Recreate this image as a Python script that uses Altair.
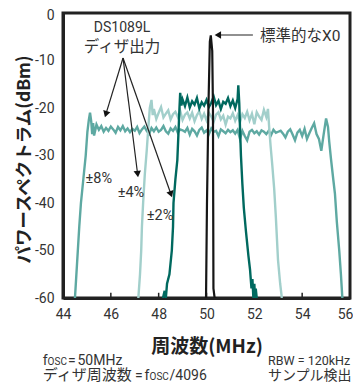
import altair as alt
import pandas as pd
import numpy as np

# ---------------- data ----------------
# ±8% dither output (medium teal)
d8_left_x = [44.50, 44.56, 44.62, 44.68, 44.75, 44.85, 44.95, 45.02, 45.08, 45.13, 45.18, 45.22, 45.26]
d8_left_y = [-60, -55, -50, -45, -40, -35, -30, -25, -22.5, -21.0, -22.8, -25.5, -23.2]
d8_plateau_start = 45.3
d8_plateau_y = [
    -25.8, -23.5, -24.6, -23.8, -25.0, -24.2, -24.8, -23.9, -24.5, -25.2, -24.0, -24.7, -23.8, -24.9, -24.3, -25.1, -24.4, -24.8,
    -24.0, -25.3, -24.5, -23.9, -24.8, -25.5, -24.2, -24.9, -24.1, -25.0, -24.6, -23.8, -24.9, -25.4, -24.3, -24.8, -24.0, -25.2, -24.5, -24.7,
    -25.0, -24.2, -25.6, -24.4, -24.9, -25.8, -24.6, -24.1, -25.2, -24.7, -25.5, -24.3, -25.0, -24.8, -25.9, -24.5, -24.9, -25.3, -24.6, -25.1,
    -24.7, -25.4, -24.6, -26.5, -24.8, -25.9, -26.8, -25.0, -24.6, -25.3, -24.9, -25.6, -24.7, -25.0, -25.5, -24.8, -25.7, -24.6, -25.2, -25.0,
    -24.8, -25.4, -26.2, -25.0, -24.5, -25.6, -26.8, -25.2, -24.6, -25.9, -24.4, -26.5, -25.3, -24.2, -23.2, -25.5, -26.5, -29.0, -25.5, -22.2,
]
d8_right_x = [55.08, 55.13, 55.20, 55.30, 55.37, 55.45, 55.55, 55.62, 55.68]
d8_right_y = [-24, -27, -30.5, -35, -38, -44, -50, -55, -60]

# ±4% dither output (light teal)
d4_left_x = [47.15, 47.22, 47.27, 47.30, 47.35, 47.42, 47.50, 47.57, 47.63, 47.70, 47.75]
d4_left_y = [-60, -55, -50, -45, -40, -34, -29, -24, -20, -18.3, -21.5]
d4_plateau_start = 47.8
d4_plateau_y = [
    -20.2, -22.3, -21.0, -19.8, -22.0, -21.2, -20.5, -22.4, -21.3, -20.8,
    -21.9, -20.6, -22.5, -21.4, -20.9, -22.2, -21.0, -22.8, -21.5, -20.7,
    -22.3, -21.2, -22.6, -21.0, -21.8, -22.9, -21.4, -20.9, -22.4, -21.6,
    -23.5, -21.8, -22.2, -21.1, -22.7, -21.5, -23.0, -21.3, -22.1, -20.8,
    -22.6, -21.2, -23.4, -20.9, -21.8, -22.5, -20.4, -21.9,
]
d4_right_x = [52.57, 52.62, 52.68, 52.75, 52.83, 52.90, 52.99, 53.08, 53.15]
d4_right_y = [-20.2, -24, -28, -32, -37, -43, -52, -57, -60]

# ±2% dither output (dark teal)
d2_left_x = [48.18, 48.25, 48.30, 48.35, 48.45, 48.55, 48.60, 48.62, 48.70, 48.78, 48.83, 48.87, 48.90, 48.95]
d2_left_y = [-60, -58.5, -60, -57, -55, -50, -45, -40, -35, -31, -25, -20, -16.8, -19.5]
d2_plateau_start = 49.0
d2_plateau_y = [
    -18.2, -19.6, -17.8, -19.9, -18.6, -19.3, -17.9, -20.1, -18.8, -19.5, -18.3, -19.8,
    -18.9, -17.6, -19.4, -18.5, -20.2, -18.7, -19.1, -17.9, -19.6, -18.4, -20.0, -18.1,
]
d2_right_x = [51.33, 51.37, 51.40, 51.44, 51.50, 51.56, 51.65, 51.75, 51.82, 51.88, 51.92, 51.96, 52.00, 52.03, 52.06, 52.10]
d2_right_y = [-15.2, -19, -24, -30, -36, -41, -46, -51, -54, -58, -56, -60, -57, -60, -58, -60]

# standard crystal oscillator (black spike)
xo_x = [49.98, 50.02, 50.08, 50.14, 50.18, 50.24, 50.27, 50.28, 50.29, 50.34, 50.42]
xo_y = [-60, -40, -20, -6, -4.7, -8, -20, -40, -58, -60, -60]

x_ticks = [44, 46, 48, 50, 52, 54, 56]
y_ticks = [-60, -50, -40, -30, -20, -10, 0]

series_names = ["±8%", "±4%", "±2%"]
series_colors = ["#5ea9a2", "#a2cfcb", "#00695f"]


def build(name, lx, ly, start, py, rx, ry):
    px = list(np.round(start + 0.1 * np.arange(len(py)), 2))
    xs = list(lx) + px + list(rx)
    ys = list(ly) + list(py) + list(ry)
    return pd.DataFrame({"f": xs, "p": ys, "s": name, "i": range(len(xs))})


spec_df = pd.concat([
    build("±8%", d8_left_x, d8_left_y, d8_plateau_start, d8_plateau_y, d8_right_x, d8_right_y),
    build("±4%", d4_left_x, d4_left_y, d4_plateau_start, d4_plateau_y, d4_right_x, d4_right_y),
    build("±2%", d2_left_x, d2_left_y, d2_plateau_start, d2_plateau_y, d2_right_x, d2_right_y),
], ignore_index=True)
xo_df = pd.DataFrame({"f": xo_x, "p": xo_y, "i": range(len(xo_x))})

# annotations (data coordinates)
arrow_df = pd.DataFrame({
    "x": [46.51, 46.51, 46.51, 51.94],
    "y": [-9.47, -9.47, -9.47, -4.63],
    "x2": [45.806, 47.115, 48.50, 50.52],
    "y2": [-21.09, -33.68, -37.94, -4.63],
    "ang": [196.9, 172.8, 160.6, 270],
})
center_text_df = pd.DataFrame({
    "x": [46.47, 46.47, 45.50, 46.84, 48.06],
    "y": [-4.0, -8.2, -35.8, -38.7, -43.6],
    "t": ["DS1089L", "ディザ出力", "±8%", "±4%", "±2%"],
    "fs": [14, 15.5, 14.5, 14.5, 14.5],
})
left_text_df = pd.DataFrame({
    "x": [52.236, 43.151, 43.356, 44.209, 44.606, 43.151, 47.010, 47.408, 47.617, 48.453, 52.571, 52.571],
    "y": [-5.9, -74.0, -74.0, -74.0, -74.0, -77.3, -77.3, -77.3, -77.3, -77.3, -74.0, -77.3],
    "t": ["標準的なX0", "f", "OSC", "=", "50MHz", "ディザ周波数", "=", "f", "OSC", "/4096", "RBW = 120kHz", "サンプル検出"],
    "fs": [15.5, 14, 10, 14, 14, 15, 14, 14, 10, 14, 12.5, 14],
})
tick_df = pd.DataFrame({"x": x_ticks, "y": [-60] * len(x_ticks), "y2": [-58.9] * len(x_ticks)})

LAT = "Roboto, Noto Sans CJK JP, sans-serif"

xs = alt.Scale(domain=[44, 56], nice=False, zero=False)
ys = alt.Scale(domain=[-60, 0], nice=False, zero=False)

x_axis = alt.Axis(
    values=x_ticks, title="周波数(MHz)", grid=False, ticks=False, labelPadding=9,
    titleY=48, titleAlign="center", titleBaseline="middle", labelFlush=False,
    labelAlign={"condition": {"test": "datum.value == 56", "value": "right"}, "value": "center"},
    labelOffset={"condition": {"test": "datum.value == 56", "value": 3}, "value": 0},
)
y_axis = alt.Axis(
    values=y_ticks, title="パワースペクトラム(dBm)", grid=False, ticks=False, labelPadding=9,
    titleX=-39, titleY=146, titleAlign="center", titleBaseline="middle", titleAngle=270,
    titleFontSize=17.5, labelExpr="'' + datum.value", labelFlush=False,
    labelOffset={"condition": {"test": "datum.value == 0", "value": 2}, "value": 0},
)

lines = alt.Chart(spec_df).mark_line(strokeWidth=2.4, clip=True).encode(
    x=alt.X("f:Q", scale=xs, axis=x_axis),
    y=alt.Y("p:Q", scale=ys, axis=y_axis),
    color=alt.Color("s:N", scale=alt.Scale(domain=series_names, range=series_colors), legend=None),
    order="i:Q",
)

xo = alt.Chart(xo_df).mark_line(strokeWidth=2.2, color="#161616", clip=True).encode(
    x="f:Q", y="p:Q", order="i:Q"
)

ticks = alt.Chart(tick_df).mark_rule(color="#222", strokeWidth=1.5).encode(
    x="x:Q", y="y:Q", y2="y2:Q"
)

arrows = alt.Chart(arrow_df).mark_rule(color="#222", strokeWidth=1.2).encode(
    x="x:Q", y="y:Q", x2="x2:Q", y2="y2:Q"
)
heads = alt.Chart(arrow_df).mark_point(shape="triangle", filled=True, size=55, color="#111", opacity=1).encode(
    x="x2:Q", y="y2:Q", angle=alt.Angle("ang:Q", scale=None)
)

ctext = alt.Chart(center_text_df).mark_text(align="center", baseline="alphabetic", font=LAT, color="#333").encode(
    x="x:Q", y="y:Q", text="t:N", size=alt.Size("fs:Q", scale=None)
)
ltext = alt.Chart(left_text_df).mark_text(align="left", baseline="alphabetic", font=LAT, color="#333").encode(
    x="x:Q", y="y:Q", text="t:N", size=alt.Size("fs:Q", scale=None)
)

chart = alt.layer(ticks, lines, xo, arrows, heads, ctext, ltext).properties(
    width=287, height=285,
    autosize=alt.AutoSizeParams(type="none"),
    padding={"left": 55, "top": 5, "right": 3, "bottom": 87},
).configure_view(
    stroke="#222", strokeWidth=3
).configure_axis(
    domainColor="#222", domainWidth=3,
    labelFont=LAT, labelFontSize=14, labelColor="#333",
    titleFont="Noto Sans CJK JP", titleFontSize=19, titleFontWeight="bold", titleColor="#222",
)

chart.save("out.html", embed_options={"renderer": "svg", "actions": False})
